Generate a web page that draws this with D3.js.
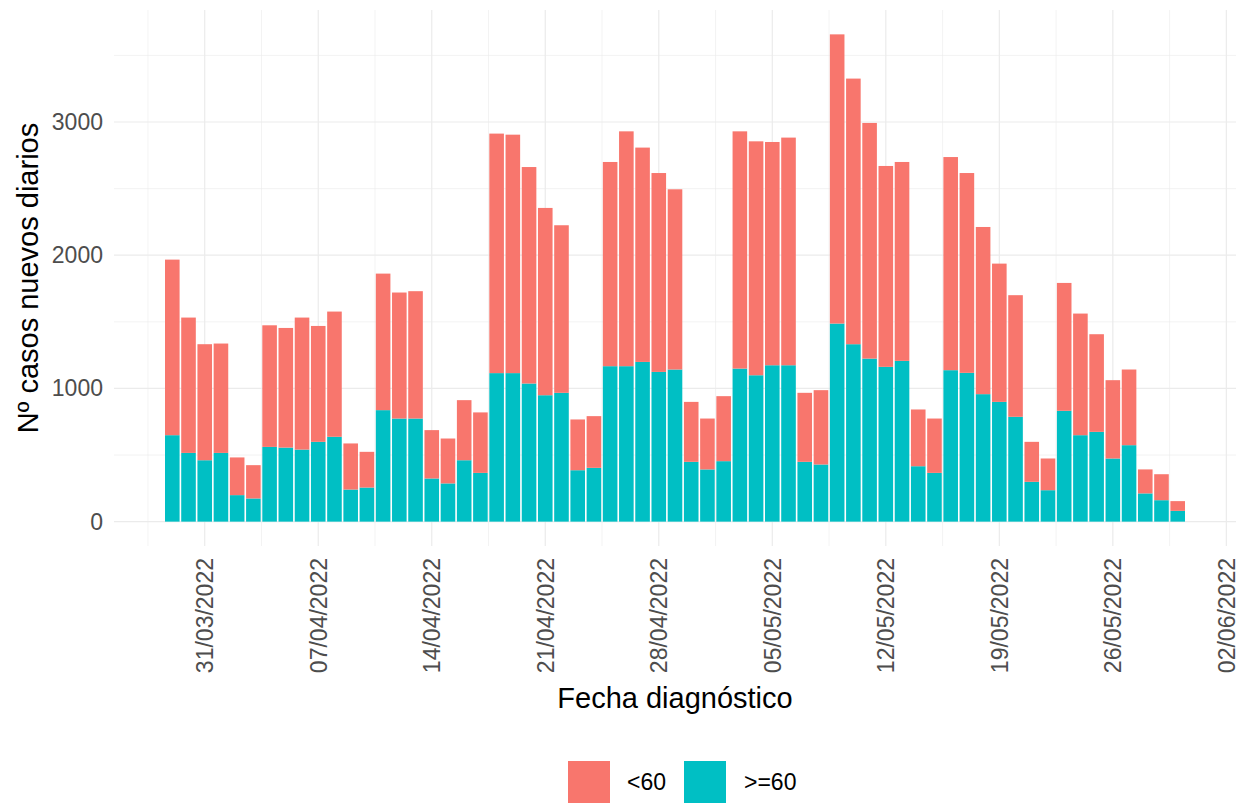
<!DOCTYPE html>
<html><head><meta charset="utf-8">
<script src="https://cdn.jsdelivr.net/npm/d3@7"></script>
<style>body{margin:0;background:#fff}svg{display:block;font-family:"Liberation Sans",Arial,sans-serif}</style>
</head><body><svg id="c" width="1259" height="804"></svg>
<script>
const dates = ["2022-03-29","2022-03-30","2022-03-31","2022-04-01","2022-04-02","2022-04-03","2022-04-04","2022-04-05","2022-04-06","2022-04-07","2022-04-08","2022-04-09","2022-04-10","2022-04-11","2022-04-12","2022-04-13","2022-04-14","2022-04-15","2022-04-16","2022-04-17","2022-04-18","2022-04-19","2022-04-20","2022-04-21","2022-04-22","2022-04-23","2022-04-24","2022-04-25","2022-04-26","2022-04-27","2022-04-28","2022-04-29","2022-04-30","2022-05-01","2022-05-02","2022-05-03","2022-05-04","2022-05-05","2022-05-06","2022-05-07","2022-05-08","2022-05-09","2022-05-10","2022-05-11","2022-05-12","2022-05-13","2022-05-14","2022-05-15","2022-05-16","2022-05-17","2022-05-18","2022-05-19","2022-05-20","2022-05-21","2022-05-22","2022-05-23","2022-05-24","2022-05-25","2022-05-26","2022-05-27","2022-05-28","2022-05-29","2022-05-30"];
const over60 = [649,516,461,516,199,174,561,556,541,599,637,241,256,837,774,774,324,287,461,366,1115,1115,1037,949,967,386,404,1167,1167,1199,1124,1142,449,392,454,1149,1099,1174,1174,449,429,1487,1332,1224,1162,1207,416,366,1137,1117,957,899,787,299,236,832,649,674,474,574,212,161,81];
const under60 = [1318,1016,871,821,283,250,913,898,991,870,940,346,268,1025,946,956,363,337,451,454,1798,1790,1625,1406,1258,381,388,1533,1763,1609,1493,1353,450,382,488,1781,1756,1676,1709,518,558,2171,1994,1769,1508,1493,426,408,1600,1500,1255,1038,913,300,238,960,913,733,588,568,180,195,73];
const seriesKeys = [">=60","<60"];
const seriesColors = ["#00BFC4","#F8766D"];
const legendLabels = ["<60",">=60"];
const xTickDates = ["2022-03-31","2022-04-07","2022-04-14","2022-04-21","2022-04-28","2022-05-05","2022-05-12","2022-05-19","2022-05-26","2022-06-02"];
const yTicks = [0,1000,2000,3000];
const yMinor = [500,1500,2500,3500];
const xTitle = "Fecha diagnóstico";
const yTitle = "Nº casos nuevos diarios";

const svg = d3.select("#c");
const P = {l:114, r:1236, t:10, b:546};
const DAY = 864e5;
const parse = d3.utcParse("%Y-%m-%d");
const rows = dates.map((d,i)=>({date:parse(d), ">=60":over60[i], "<60":under60[i]}));
const t0 = rows[0].date.getTime()-0.45*DAY, t1 = rows[rows.length-1].date.getTime()+0.45*DAY;
const ex = (t1-t0)*0.05;
const x = d3.scaleUtc().domain([new Date(t0-ex), new Date(t1+ex)]).range([P.l,P.r]);
const maxT = d3.max(rows, r=>r[">=60"]+r["<60"]);
const y = d3.scaleLinear().domain([-0.05*maxT, maxT*1.05]).range([P.b,P.t]);

const grid = svg.append("g");
const xt = xTickDates.map(parse);
const xMinor = [new Date(xt[0].getTime()-3.5*DAY)].concat(xt.slice(1).map((d,i)=>new Date((d.getTime()+xt[i].getTime())/2)));
grid.selectAll(".xm").data(xMinor.filter(d=>x(d)>=P.l&&x(d)<=P.r)).join("line")
  .attr("x1",d=>x(d)).attr("x2",d=>x(d)).attr("y1",P.t).attr("y2",P.b).attr("stroke","#EBEBEB").attr("stroke-width",0.6);
grid.selectAll(".ym").data(yMinor).join("line")
  .attr("x1",P.l).attr("x2",P.r).attr("y1",d=>y(d)).attr("y2",d=>y(d)).attr("stroke","#EBEBEB").attr("stroke-width",0.6);
grid.selectAll(".xM").data(xt).join("line")
  .attr("x1",d=>x(d)).attr("x2",d=>x(d)).attr("y1",P.t).attr("y2",P.b).attr("stroke","#EBEBEB").attr("stroke-width",1.2);
grid.selectAll(".yM").data(yTicks).join("line")
  .attr("x1",P.l).attr("x2",P.r).attr("y1",d=>y(d)).attr("y2",d=>y(d)).attr("stroke","#EBEBEB").attr("stroke-width",1.2);

const stack = d3.stack().keys(seriesKeys)(rows);
const bw = x(new Date(0.9*DAY)) - x(new Date(0));
svg.append("g").selectAll("g").data(stack).join("g")
  .attr("fill",(d,i)=>seriesColors[i])
  .selectAll("rect").data(d=>d).join("rect")
  .attr("x",d=>x(d.data.date)-bw/2).attr("width",bw)
  .attr("y",d=>y(d[1])).attr("height",d=>y(d[0])-y(d[1]));

const ya = svg.append("g").attr("transform",`translate(${P.l},0)`)
  .call(d3.axisLeft(y).tickValues(yTicks).tickFormat(d3.format("d")).tickSize(0).tickPadding(11));
ya.select(".domain").remove();
ya.selectAll("text").attr("font-size",23).attr("fill","#4D4D4D").attr("font-family","Liberation Sans, Arial, sans-serif");

const fmt = d3.utcFormat("%d/%m/%Y");
const xa = svg.append("g").attr("transform",`translate(0,${P.b})`)
  .call(d3.axisBottom(x).tickValues(xt).tickFormat(fmt).tickSize(0));
xa.select(".domain").remove();
xa.selectAll("text").attr("font-size",23).attr("fill","#4D4D4D").attr("font-family","Liberation Sans, Arial, sans-serif")
  .attr("transform","rotate(-90)").attr("text-anchor","end").attr("dy","0.35em").attr("x",-12).attr("y",0);

svg.append("text").attr("x",(P.l+P.r)/2).attr("y",708).attr("text-anchor","middle")
  .attr("font-size",29).attr("fill","#000").text(xTitle);
svg.append("text").attr("transform",`translate(38,${(P.t+P.b)/2}) rotate(-90)`).attr("text-anchor","middle")
  .attr("font-size",29).attr("fill","#000").text(yTitle);

const lg = svg.append("g");
const items = [{lab:legendLabels[0], col:seriesColors[1], kx:568, tx:627},{lab:legendLabels[1], col:seriesColors[0], kx:684, tx:744}];
items.forEach(it=>{
  lg.append("rect").attr("x",it.kx).attr("y",761).attr("width",42).attr("height",42).attr("fill",it.col);
  lg.append("text").attr("x",it.tx).attr("y",782).attr("dy","0.35em").attr("font-size",23).attr("fill","#000").text(it.lab);
});
</script></body></html>
